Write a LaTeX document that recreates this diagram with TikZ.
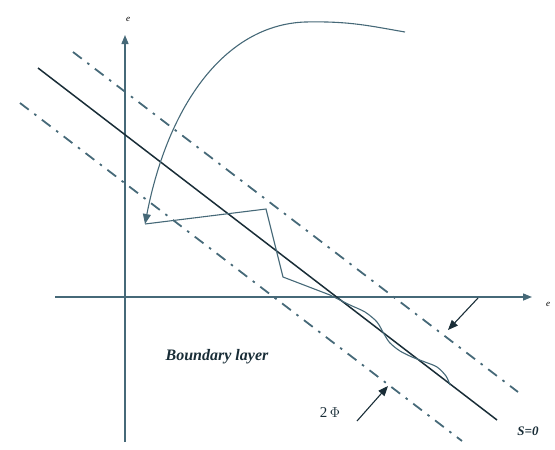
\documentclass[tikz,border=0pt]{standalone}
\usepackage{fontspec}
\setmainfont{Liberation Serif}
\usepackage{tikz}
\usetikzlibrary{arrows.meta, positioning, calc}

\definecolor{axisgray}{RGB}{70,105,120}
\definecolor{linedark}{RGB}{25,45,55}

\begin{document}
\begin{tikzpicture}[
    x=1pt, y=-1pt,
    axis/.style={line width=1.4pt, draw=axisgray, -{Triangle[length=9pt,width=7pt]}},
    surface/.style={line width=1.5pt, draw=linedark},
    layer/.style={line width=1.8pt, draw=axisgray, dash pattern=on 11pt off 7pt on 2.5pt off 7pt},
    path/.style={line width=1.1pt, draw=axisgray},
    arrow/.style={line width=1.1pt, draw=linedark, -{Triangle[length=10pt,width=8pt]}},
    lbl/.style={font=\fontsize{16}{18}\selectfont\bfseries\itshape, text=linedark}
]
    \useasboundingbox (0,0) rectangle (555,450);

    % Points
    \coordinate (ybot) at (125,442);
    \coordinate (ytop) at (125,35);
    \coordinate (xleft) at (55,297);
    \coordinate (xright) at (532,297);
    \coordinate (sa) at (38,68);
    \coordinate (sb) at (497,420);
    \coordinate (ua) at (73,52);
    \coordinate (ub) at (518,392);
    \coordinate (la) at (20,103);
    \coordinate (lb) at (462,441);
    \coordinate (start) at (405,32);
    \coordinate (reach) at (145,224);
    \coordinate (kink) at (266,209);
    \coordinate (hit) at (330,295);
    \coordinate (end) at (450,385);

    % Axes
    \draw [axis] (ybot) -- (ytop);
    \draw [axis] (xleft) -- (xright);
    \node (elabx) at (548,304) {\fontsize{9}{10}\selectfont\itshape e};
    \node (elaby) at (128,19) {\fontsize{9}{10}\selectfont\itshape e};

    % Sliding surface and boundary layer
    \draw [surface] (sa) -- (sb);
    \draw [layer] (ua) -- (ub);
    \draw [layer] (la) -- (lb);

    % Reaching phase
    \draw [path, -{Triangle[length=10pt,width=8pt]}] (start) .. controls (370,26) and (350,21) .. (305,22)
        .. controls (225,25) and (168,105) .. (reach);
    \draw [path] (reach) -- (kink) -- (283,277) -- (hit);
    \draw [path] plot[smooth, tension=0.5] coordinates {(hit) (350,305) (365,312) (377,322) (384,334)
        (390,343) (400,351) (412,357) (425,362) (437,367) (446,376) (end)};

    % Labels
    \node (blayer) [lbl] at (217,357) {Boundary layer};
    \node (phi) [font=\fontsize{15}{17}\selectfont, text=linedark] at (330,413) {2\,$\Phi$};
    \node (sname) [lbl, font=\fontsize{13}{15}\selectfont\bfseries\itshape] at (528,431) {S=0};

    % Width arrows
    \coordinate (wa) at (478,298);
    \coordinate (wb) at (357,421);
    \draw [arrow] (wa) -- (448,330);
    \draw [arrow] (wb) -- (388,386);

\end{tikzpicture}
\end{document}
